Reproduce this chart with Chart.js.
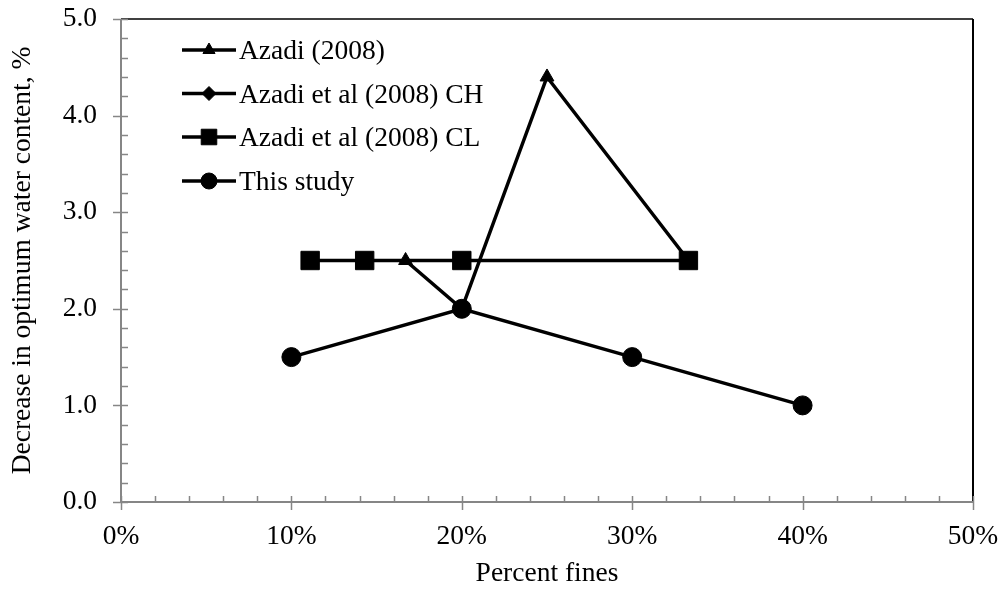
<!DOCTYPE html>
<html>
<head>
<meta charset="utf-8">
<script src="https://cdn.jsdelivr.net/npm/chart.js@4/dist/chart.umd.min.js"></script>
<style>
html,body{margin:0;padding:0;background:#fff;}
#wrap{width:1000px;height:590px;position:relative;}
</style>
</head>
<body>
<div id="wrap"><canvas id="c" width="1000" height="590"></canvas></div>
<script>
// ---- data ----
const seriesNames = ['Azadi (2008)', 'Azadi et al (2008) CH', 'Azadi et al (2008) CL', 'This study'];
const azadiX = [16.7, 20, 25, 33.3];
const azadiY = [2.5, 2.0, 4.4, 2.5];
const chX = [20];
const chY = [2.0];
const clX = [11.1, 14.3, 20, 33.3];
const clY = [2.5, 2.5, 2.5, 2.5];
const studyX = [10, 20, 30, 40];
const studyY = [1.5, 2.0, 1.5, 1.0];
const xTickValues = [0, 10, 20, 30, 40, 50];
const xTickLabels = ['0%', '10%', '20%', '30%', '40%', '50%'];
const yTickValues = [0, 1, 2, 3, 4, 5];
const yTickLabels = ['0.0', '1.0', '2.0', '3.0', '4.0', '5.0'];
const xTitle = 'Percent fines';
const yTitle = 'Decrease in optimum water content, %';

const FONT = '"Liberation Serif", "Times New Roman", serif';
const FSIZE = 27.5;
const AXIS_GRAY = '#868686';

function pts(xs, ys) { return xs.map((x, i) => ({ x: x, y: ys[i] })); }

const styles = [
  { pointStyle: 'triangle', radius: 8 },
  { pointStyle: 'rectRot', radius: 8 },
  { pointStyle: 'rect', radius: 13 },
  { pointStyle: 'circle', radius: 9.5 }
];
const dataSets = [pts(azadiX, azadiY), pts(chX, chY), pts(clX, clY), pts(studyX, studyY)];
const orders = [2, 3, 1, 0];

const datasets = dataSets.map((d, i) => ({
  label: seriesNames[i],
  data: d,
  showLine: true,
  borderColor: '#000',
  backgroundColor: '#000',
  borderWidth: 3.5,
  pointStyle: styles[i].pointStyle,
  pointRadius: styles[i].radius,
  pointHoverRadius: styles[i].radius,
  pointBorderWidth: 1,
  pointBackgroundColor: '#000',
  pointBorderColor: '#000',
  order: orders[i],
  tension: 0
}));

function noPad(scale) {
  scale.paddingLeft = 0; scale.paddingRight = 0;
  scale.paddingTop = 0; scale.paddingBottom = 0;
}

// custom axis ticks (major crossing, minor inside) + frame + legend
const decor = {
  id: 'decor',
  afterDatasetsDraw(chart) {
    const ctx = chart.ctx;
    const xs = chart.scales.x, ys = chart.scales.y;
    const a = chart.chartArea;
    ctx.save();
    // top & right frame
    ctx.strokeStyle = '#000';
    ctx.lineWidth = 1.5;
    ctx.beginPath();
    ctx.moveTo(a.left, a.top); ctx.lineTo(a.right, a.top);
    ctx.stroke();
    ctx.lineWidth = 2;
    ctx.beginPath();
    ctx.moveTo(a.right, a.top); ctx.lineTo(a.right, a.bottom);
    ctx.stroke();
    // axes lines
    ctx.strokeStyle = AXIS_GRAY;
    ctx.lineWidth = 2;
    ctx.beginPath();
    ctx.moveTo(a.left, a.bottom); ctx.lineTo(a.right, a.bottom);
    ctx.moveTo(a.left, a.top); ctx.lineTo(a.left, a.bottom);
    ctx.stroke();
    ctx.lineWidth = 1.5;
    ctx.beginPath();
    // x ticks
    for (let k = 0; k <= 25; k++) {
      const v = k * 2;
      const px = Math.round(xs.getPixelForValue(v)) + 0.5;
      const major = k % 5 === 0;
      ctx.moveTo(px, a.bottom - 6);
      ctx.lineTo(px, a.bottom + (major ? 8 : 0));
    }
    // y ticks
    for (let k = 0; k <= 25; k++) {
      const v = k * 0.2;
      const py = Math.round(ys.getPixelForValue(v)) + 0.5;
      const major = k % 5 === 0;
      ctx.moveTo(a.left + 7, py);
      ctx.lineTo(a.left - (major ? 8 : 0), py);
    }
    ctx.stroke();

    // legend
    const rowsY = [50, 93.5, 137, 181];
    const lx0 = 182, lx1 = 236, mx = 209, tx = 239;
    ctx.font = FSIZE + 'px ' + FONT;
    ctx.textBaseline = 'middle';
    ctx.textAlign = 'left';
    seriesNames.forEach((name, i) => {
      const y = rowsY[i];
      ctx.strokeStyle = '#000';
      ctx.lineWidth = 3.5;
      ctx.beginPath();
      ctx.moveTo(lx0, y); ctx.lineTo(lx1, y);
      ctx.stroke();
      ctx.fillStyle = '#000';
      ctx.lineWidth = 1;
      const r = styles[i].pointStyle === 'rect' ? 11 : (styles[i].pointStyle === 'circle' ? 8 : 7);
      Chart.helpers.drawPoint(ctx, { pointStyle: styles[i].pointStyle, radius: r, rotation: 0, borderWidth: 1 }, mx, y);
      ctx.fillStyle = '#000';
      ctx.fillText(name, tx, y + 2);
    });
    ctx.restore();
  }
};

new Chart(document.getElementById('c'), {
  type: 'scatter',
  data: { datasets: datasets },
  options: {
    responsive: false,
    animation: false,
    devicePixelRatio: 1,
    layout: { padding: { top: 19, right: 27, left: 0, bottom: 0 } },
    plugins: { legend: { display: false }, tooltip: { enabled: false } },
    scales: {
      x: {
        type: 'linear', min: 0, max: 50,
        afterBuildTicks(scale) { scale.ticks = xTickValues.map(v => ({ value: v })); },
        afterFit(scale) { scale.height = 88; noPad(scale); },
        grid: { display: false, drawTicks: false },
        border: { display: false },
        ticks: {
          padding: 18, color: '#000',
          font: { family: FONT, size: FSIZE },
          maxRotation: 0, autoSkip: false,
          callback: (v) => { const i = xTickValues.indexOf(v); return i >= 0 ? xTickLabels[i] : ''; }
        },
        title: { display: true, text: xTitle, color: '#000', font: { family: FONT, size: FSIZE }, padding: { top: 0, bottom: 0 } }
      },
      y: {
        type: 'linear', min: 0, max: 5,
        afterBuildTicks(scale) { scale.ticks = yTickValues.map(v => ({ value: v })); },
        afterFit(scale) { scale.width = 121; noPad(scale); },
        grid: { display: false, drawTicks: false },
        border: { display: false },
        ticks: {
          padding: 24, color: '#000',
          font: { family: FONT, size: FSIZE },
          autoSkip: false,
          callback: (v) => { const i = yTickValues.indexOf(v); return i >= 0 ? yTickLabels[i] : ''; }
        },
        title: { display: true, text: yTitle, color: '#000', font: { family: FONT, size: FSIZE }, padding: { top: 6, bottom: 0 } }
      }
    }
  },
  plugins: [decor]
});
</script>
</body>
</html>
